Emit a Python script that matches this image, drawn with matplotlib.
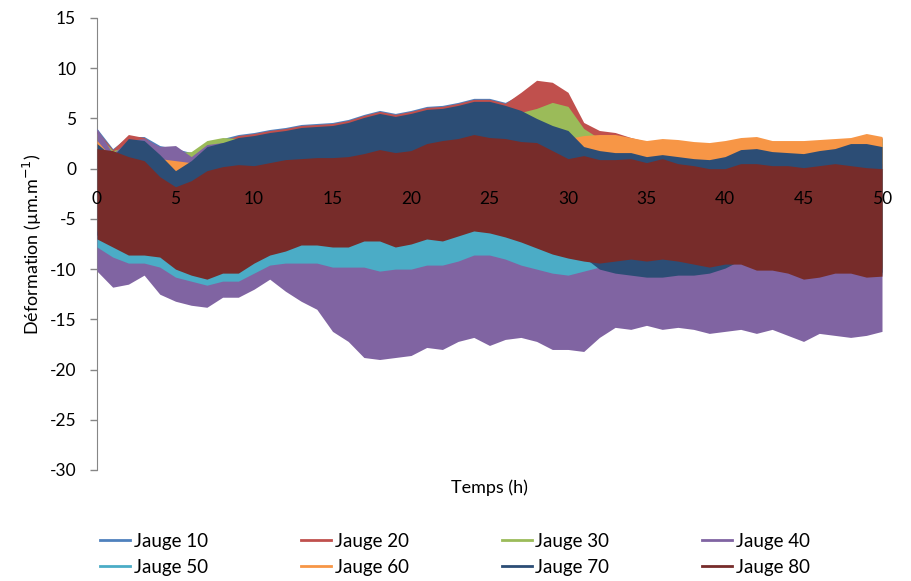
import numpy as np
import matplotlib.pyplot as plt

plt.rcParams['font.family'] = ['Lato', 'DejaVu Sans']
plt.rcParams['axes.unicode_minus'] = False

# temps en heures (une valeur par heure)
hours = list(range(51))

labels = ['Jauge 10', 'Jauge 20', 'Jauge 30', 'Jauge 40',
          'Jauge 50', 'Jauge 60', 'Jauge 70', 'Jauge 80']
colors = ['#4F81BD', '#C0504D', '#9BBB59', '#8064A2',
          '#4BACC6', '#F79646', '#2C4D75', '#772C2A']

# enveloppes haute / basse de chaque jauge (µm/m)
j10_hi = [4.0, 2.0, 3.2, 3.2, 2.3, 2.0, 1.6, 2.6, 3.0, 3.4, 3.6, 3.9, 4.1, 4.4, 4.5, 4.6, 4.9,
          5.4, 5.8, 5.5, 5.8, 6.2, 6.3, 6.6, 7.0, 7.0, 6.6, 7.4, 8.6, 8.4, 7.4, 4.4, 3.6, 3.4,
          3.0, 2.6, 2.8, 2.7, 2.5, 2.4, 2.6, 2.9, 3.0, 2.6, 2.6, 2.6, 2.7, 2.8, 2.9, 3.3, 3.0]
j10_lo = [-6.0, -7.0, -7.8, -7.8, -7.8, -9.2, -9.8, -10.2, -9.6, -9.6, -8.6, -7.8, -7.4, -6.8,
          -6.8, -7.0, -7.0, -6.4, -6.4, -7.0, -6.8, -6.2, -6.4, -5.8, -5.2, -5.4, -5.8, -6.4,
          -7.0, -7.6, -8.0, -8.2, -8.6, -8.4, -8.0, -8.4, -8.0, -8.4, -8.6, -9.0, -8.6, -8.6,
          -9.2, -9.2, -9.6, -10.2, -10.0, -9.6, -9.6, -10.0, -9.8]

j20_hi = [3.8, 1.9, 3.4, 3.1, 2.0, 1.6, 1.5, 2.4, 2.8, 3.3, 3.5, 3.8, 4.0, 4.3, 4.4, 4.5, 4.8,
          5.3, 5.7, 5.4, 5.7, 6.1, 6.2, 6.5, 6.9, 6.9, 6.5, 7.6, 8.8, 8.6, 7.6, 4.6, 3.8, 3.6,
          3.1, 2.7, 2.9, 2.8, 2.6, 2.5, 2.7, 3.0, 3.1, 2.7, 2.7, 2.7, 2.8, 2.9, 3.0, 3.4, 3.1]
j20_lo = [-6.1, -6.9, -7.7, -7.9, -7.9, -9.1, -9.7, -10.1, -9.5, -9.7, -8.7, -7.9, -7.3, -6.9,
          -6.7, -7.1, -6.9, -6.5, -6.3, -7.1, -6.7, -6.3, -6.3, -5.9, -5.3, -5.5, -5.9, -6.3,
          -7.1, -7.5, -8.1, -8.1, -8.5, -8.3, -8.1, -8.3, -8.1, -8.3, -8.7, -8.9, -8.7, -8.5,
          -9.1, -9.3, -9.5, -10.1, -9.9, -9.5, -9.7, -9.9, -9.7]

j30_hi = [3.5, 1.8, 2.2, 2.0, 1.8, 1.6, 1.7, 2.8, 3.1, 3.0, 3.0, 3.3, 3.5, 3.8, 3.9, 4.0, 4.3,
          4.8, 5.2, 4.9, 5.2, 5.6, 5.7, 6.0, 6.4, 6.4, 6.0, 5.6, 6.0, 6.6, 6.2, 4.0, 3.0, 3.2,
          3.0, 2.6, 2.8, 2.7, 2.5, 2.4, 2.6, 2.9, 3.0, 2.6, 2.6, 2.6, 2.7, 2.8, 2.9, 3.3, 3.0]
j30_lo = [-6.2, -7.1, -7.9, -7.8, -8.0, -9.3, -9.9, -10.3, -9.7, -9.6, -8.5, -7.7, -7.5, -6.7,
          -6.9, -6.9, -7.1, -6.3, -6.5, -6.9, -6.9, -6.1, -6.5, -5.7, -5.3, -5.3, -5.7, -6.5,
          -6.9, -7.7, -7.9, -8.3, -8.7, -8.5, -7.9, -8.5, -7.9, -8.5, -8.5, -9.1, -8.5, -8.7,
          -9.3, -9.1, -9.7, -10.3, -10.1, -9.7, -9.5, -10.1, -9.9]

j40_hi = [4.0, 1.5, 2.8, 3.0, 2.2, 2.3, 1.2, 2.4, 2.6, 2.2, 1.8, 1.6, 1.5, 1.5, 1.6, 1.6, 1.7,
          2.0, 2.4, 2.1, 2.3, 3.0, 3.3, 3.5, 3.9, 3.6, 3.5, 3.2, 3.1, 2.3, 1.5, 1.8, 1.4, 1.4,
          1.5, 1.1, 1.5, 1.0, 0.8, 0.5, 0.5, 1.0, 1.0, 0.8, 0.8, 0.6, 0.8, 1.0, 0.8, 0.6, 0.5]
j40_lo = [-10.2, -11.8, -11.5, -10.6, -12.5, -13.2, -13.6, -13.8, -12.8, -12.8, -12.0, -11.0,
          -12.2, -13.2, -14.0, -16.2, -17.2, -18.8, -19.0, -18.8, -18.6, -17.8, -18.0, -17.2,
          -16.8, -17.6, -17.0, -16.8, -17.2, -18.0, -18.0, -18.2, -16.8, -15.8, -16.0, -15.6,
          -16.0, -15.8, -16.0, -16.4, -16.2, -16.0, -16.4, -16.0, -16.6, -17.2, -16.4, -16.6,
          -16.8, -16.6, -16.2]

j50_hi = [1.0, 0.8, 0.2, -0.2, -1.5, -2.5, -2.0, -1.0, -0.8, -0.6, -0.7, -0.4, -0.1, 0.0, 0.1,
          0.1, 0.2, 0.5, 0.9, 0.6, 0.8, 1.5, 1.8, 2.0, 2.4, 2.1, 2.0, 1.7, 1.6, 0.8, 0.0, 0.3,
          -0.1, -0.1, 0.0, -0.4, 0.0, -0.5, -0.7, -1.0, -1.0, -0.5, -0.5, -0.7, -0.7, -0.9,
          -0.7, -0.5, -0.7, -0.9, -1.0]
j50_lo = [-7.8, -8.8, -9.4, -9.4, -9.8, -10.8, -11.2, -11.6, -11.2, -11.2, -10.4, -9.6, -9.4,
          -9.4, -9.4, -9.8, -9.8, -9.8, -10.2, -10.0, -10.0, -9.6, -9.6, -9.2, -8.6, -8.6, -9.0,
          -9.6, -10.0, -10.4, -10.6, -10.2, -9.8, -9.0, -8.8, -9.0, -8.8, -9.0, -9.3, -9.6,
          -9.3, -9.3, -9.9, -9.9, -10.2, -10.8, -10.6, -10.2, -10.2, -10.6, -10.5]

j60_hi = [2.8, 1.0, 1.5, 1.2, 1.0, 0.8, 0.6, 0.8, 1.0, 1.5, 1.6, 1.8, 2.0, 2.2, 2.4, 2.5, 2.6,
          2.8, 3.0, 3.0, 3.2, 3.4, 3.6, 3.8, 4.0, 4.0, 3.8, 3.6, 3.3, 3.0, 3.0, 3.3, 3.4, 3.4,
          3.1, 2.8, 3.0, 2.9, 2.7, 2.6, 2.8, 3.1, 3.2, 2.8, 2.8, 2.8, 2.9, 3.0, 3.1, 3.5, 3.2]
j60_lo = [-6.2, -7.0, -7.8, -7.8, -8.0, -9.2, -9.8, -10.2, -9.6, -9.6, -8.6, -7.8, -7.4, -6.8,
          -6.8, -7.0, -7.0, -6.4, -6.4, -7.0, -6.7, -6.2, -6.4, -5.9, -5.4, -5.6, -6.0, -6.5,
          -7.1, -7.7, -8.1, -8.4, -8.6, -8.4, -8.2, -8.4, -8.2, -8.4, -8.7, -9.0, -8.7, -8.7,
          -9.3, -9.3, -9.6, -10.2, -10.0, -9.6, -9.6, -10.0, -9.9]

j70_hi = [2.5, 1.2, 3.0, 2.8, 1.4, -0.2, 0.8, 2.2, 2.6, 3.1, 3.3, 3.6, 3.8, 4.1, 4.2, 4.3, 4.6,
          5.1, 5.5, 5.2, 5.5, 5.9, 6.0, 6.3, 6.7, 6.7, 6.3, 5.8, 5.0, 4.3, 3.8, 2.2, 1.8, 1.6,
          1.6, 1.2, 1.4, 1.2, 1.0, 0.9, 1.2, 1.9, 2.0, 1.7, 1.6, 1.5, 1.8, 2.0, 2.5, 2.5, 2.2]
j70_lo = [-6.6, -7.4, -8.2, -8.2, -8.4, -9.6, -10.2, -10.6, -10.0, -10.0, -9.0, -8.2, -7.8,
          -7.2, -7.2, -7.4, -7.4, -6.8, -6.8, -7.4, -7.1, -6.6, -6.8, -6.3, -5.8, -6.0, -6.4,
          -6.9, -7.5, -8.1, -8.5, -8.8, -10.0, -10.4, -10.6, -10.8, -10.8, -10.6, -10.6, -10.4,
          -9.9, -9.1, -9.7, -9.7, -10.0, -10.6, -10.4, -10.0, -10.0, -10.4, -10.3]

j80_hi = [2.0, 1.8, 1.2, 0.8, -0.8, -1.8, -1.2, -0.2, 0.2, 0.4, 0.3, 0.6, 0.9, 1.0, 1.1, 1.1,
          1.2, 1.5, 1.9, 1.6, 1.8, 2.5, 2.8, 3.0, 3.4, 3.1, 3.0, 2.7, 2.6, 1.8, 1.0, 1.3, 0.9,
          0.9, 1.0, 0.6, 1.0, 0.5, 0.3, 0.0, 0.0, 0.5, 0.5, 0.3, 0.3, 0.1, 0.3, 0.5, 0.3, 0.1, 0.0]
j80_lo = [-7.0, -7.8, -8.6, -8.6, -8.8, -10.0, -10.6, -11.0, -10.4, -10.4, -9.4, -8.6, -8.2,
          -7.6, -7.6, -7.8, -7.8, -7.2, -7.2, -7.8, -7.5, -7.0, -7.2, -6.7, -6.2, -6.4, -6.8,
          -7.3, -7.9, -8.5, -8.9, -9.2, -9.4, -9.2, -9.0, -9.2, -9.0, -9.2, -9.5, -9.8, -9.5,
          -9.5, -10.1, -10.1, -10.4, -11.0, -10.8, -10.4, -10.4, -10.8, -10.7]

highs = [j10_hi, j20_hi, j30_hi, j40_hi, j50_hi, j60_hi, j70_hi, j80_hi]
lows = [j10_lo, j20_lo, j30_lo, j40_lo, j50_lo, j60_lo, j70_lo, j80_lo]

fig = plt.figure(figsize=(9.11, 5.81), dpi=100)
ax = fig.add_axes([97/911, 1-470/581, 785/911, 452/581])

# chaque jauge oscille entre ses deux enveloppes ; la derniere tracee passe devant
handles = []
for lab, col, hi, lo in zip(labels, colors, highs, lows):
    ax.fill_between(hours, lo, hi, color=col, linewidth=0, zorder=2)
    h, = ax.plot([], [], color=col, lw=2, label=lab)
    handles.append(h)

ax.set_xlim(0, 50)
ax.set_ylim(-30, 15)
ax.set_xticks(range(0, 51, 5))
ax.set_yticks(range(-30, 16, 5))

for s in ['top', 'right']:
    ax.spines[s].set_visible(False)
ax.spines['bottom'].set_position(('data', 0))
ax.spines['bottom'].set_color('#868686')
ax.spines['bottom'].set_zorder(1.8)
ax.spines['left'].set_color('#868686')
ax.spines['left'].set_zorder(1.8)
ax.xaxis.set_zorder(5)

ax.tick_params(axis='x', length=0, pad=16, labelsize=12.5)
ax.tick_params(axis='y', length=5, width=1, color='#868686', pad=10, labelsize=12.5)

fig.text(32/911, 1-244/581, 'Déformation (µm.m$^{-1}$)', rotation=90,
         ha='center', va='center', fontsize=13)
fig.text(489/911, 1-488/581, 'Temps (h)', ha='center', va='center', fontsize=13)

# legende remplie ligne par ligne (4 colonnes, 2 lignes)
order = [0, 4, 1, 5, 2, 6, 3, 7]
fig.legend([handles[i] for i in order], [labels[i] for i in order],
           loc='upper left', bbox_to_anchor=(100/911, 1-533/581, 710/911, 0),
           ncol=4, mode='expand', frameon=False, fontsize=13.5, handlelength=1.6,
           handletextpad=0.2, labelspacing=0.48, borderaxespad=0, borderpad=0)

fig.savefig('out.png', dpi=100)
